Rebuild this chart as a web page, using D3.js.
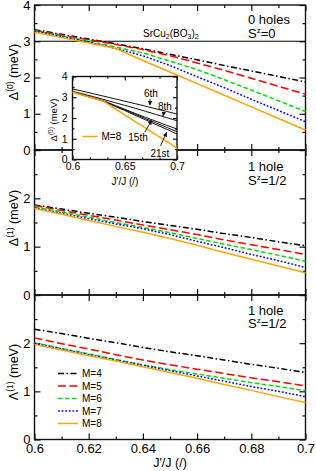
<!DOCTYPE html>
<html>
<head>
<meta charset="utf-8">
<script src="https://cdn.jsdelivr.net/npm/d3@7"></script>
<style>
  body { margin: 0; background: #fff; }
  svg { display: block; font-family: "Liberation Sans", Arial, sans-serif; }
</style>
</head>
<body>
<div id="chart"></div>
<script>
// J'/J sampling
const jRatio = [0.60, 0.61, 0.62, 0.63, 0.64, 0.65, 0.66, 0.67, 0.68, 0.69, 0.70];

const mLabels = ["M=4", "M=5", "M=6", "M=7", "M=8"];

// 0 holes, S^z=0 : Delta^(0)
const gap0M4 = [3.32, 3.19, 3.06, 2.93, 2.79, 2.64, 2.49, 2.33, 2.18, 2.03, 1.88];
const gap0M5 = [3.30, 3.17, 3.04, 2.91, 2.77, 2.60, 2.40, 2.20, 1.98, 1.76, 1.54];
const gap0M6 = [3.29, 3.15, 3.00, 2.84, 2.68, 2.45, 2.22, 1.94, 1.65, 1.36, 1.06];
const gap0M7 = [3.28, 3.13, 2.98, 2.80, 2.60, 2.33, 2.02, 1.72, 1.40, 1.09, 0.78];
const gap0M8 = [3.25, 3.10, 2.95, 2.80, 2.47, 2.15, 1.83, 1.51, 1.19, 0.87, 0.55];

// 1 hole, S^z=1/2 : Delta^(1)
const gap1M4 = [1.86, 1.78, 1.69, 1.61, 1.52, 1.44, 1.36, 1.27, 1.19, 1.10, 1.02];
const gap1M5 = [1.85, 1.75, 1.65, 1.55, 1.45, 1.35, 1.25, 1.14, 1.04, 0.94, 0.84];
const gap1M6 = [1.82, 1.72, 1.61, 1.50, 1.40, 1.29, 1.17, 1.05, 0.94, 0.82, 0.70];
const gap1M7 = [1.80, 1.69, 1.58, 1.47, 1.37, 1.25, 1.11, 0.98, 0.84, 0.71, 0.57];
const gap1M8 = [1.79, 1.67, 1.54, 1.42, 1.30, 1.17, 1.03, 0.88, 0.74, 0.60, 0.46];

// 1 hole, S^z=1/2 : Lambda^(1)
const lam1M4 = [2.29, 2.20, 2.10, 2.01, 1.91, 1.82, 1.74, 1.65, 1.56, 1.48, 1.39];
const lam1M5 = [2.11, 1.99, 1.88, 1.76, 1.65, 1.55, 1.46, 1.37, 1.28, 1.20, 1.11];
const lam1M6 = [2.01, 1.89, 1.78, 1.66, 1.55, 1.45, 1.36, 1.27, 1.18, 1.10, 1.01];
const lam1M7 = [1.99, 1.88, 1.76, 1.65, 1.54, 1.43, 1.32, 1.21, 1.10, 1.00, 0.89];
const lam1M8 = [1.97, 1.86, 1.74, 1.63, 1.51, 1.39, 1.27, 1.14, 1.02, 0.89, 0.77];

// inset: excited levels (M=8)
const level6th  = [3.40, 3.29, 3.17, 3.05, 2.93, 2.81, 2.69, 2.57, 2.44, 2.32, 2.19];
const level8th  = [3.29, 3.16, 3.03, 2.89, 2.75, 2.61, 2.47, 2.32, 2.17, 2.02, 1.87];
const level15th = [3.26, 3.12, 2.97, 2.82, 2.62, 2.42, 2.22, 2.03, 1.84, 1.65, 1.47];
const levelMid  = [3.25, 3.11, 2.96, 2.81, 2.60, 2.39, 2.18, 1.97, 1.76, 1.55, 1.34];
const level21st = [3.25, 3.10, 2.95, 2.80, 2.58, 2.36, 2.13, 1.91, 1.68, 1.46, 1.23];

const expGap = 3.0; // SrCu2(BO3)2

const xMajor = [0.60, 0.62, 0.64, 0.66, 0.68, 0.70];
const xMinor = [0.61, 0.63, 0.65, 0.67, 0.69];
const xTickLabels = ["0.6", "0.62", "0.64", "0.66", "0.68", "0.7"];
const insetXMajor = [0.60, 0.65, 0.70];
const insetXLabels = ["0.6", "0.65", "0.7"];

// annotations in data coords: [label x, label y, tail x, tail y, tip x, tip y]
const insetNotes = [
  ["6th", 0.6750, 3.01, 0.6742, 2.92, 0.6742, 2.62],
  ["8th", 0.6885, 2.39, 0.6876, 2.29, 0.6866, 2.10],
  ["15th", 0.6627, 0.89, 0.6694, 1.33, 0.6756, 1.88],
  ["21st", 0.6837, 0.12, 0.6842, 0.65, 0.6900, 1.30]
];

// styles
const mColors = ["#000000", "#ff0000", "#00dd00", "#0000ff", "#ffa500"];
const mDashes = ["6,2.5,1.5,2.5", "8,3.5", "4.5,2.5", "1.8,1.8", null];

const W = 316, H = 471;
const svg = d3.select("#chart").append("svg")
  .attr("width", W).attr("height", H);

const x = d3.scaleLinear().domain([0.6, 0.7]).range([34.5, 305.5]);

const panels = [
  { y: d3.scaleLinear().domain([0, 4]).range([150, 5]),
    series: [gap0M4, gap0M5, gap0M6, gap0M7, gap0M8],
    yLabels: [0, 1, 2, 3, 4], title: ["\u0394", "(0)"], titleY: 72,
    note: ["0 holes", "=0"], noteY: [24, 38] },
  { y: d3.scaleLinear().domain([0, 3]).range([295, 150]),
    series: [gap1M4, gap1M5, gap1M6, gap1M7, gap1M8],
    yLabels: [0, 1, 2], title: ["\u0394", "(1)"], titleY: 218,
    note: ["1 hole", "=1/2"], noteY: [170.5, 185] },
  { y: d3.scaleLinear().domain([0, 3]).range([439.5, 295]),
    series: [lam1M4, lam1M5, lam1M6, lam1M7, lam1M8],
    yLabels: [0, 1, 2], title: ["\u039b", "(1)"], titleY: 372,
    note: ["1 hole", "=1/2"], noteY: [315, 328] }
];

function halfSteps(domain) {
  return d3.range(domain[0] + 0.5, domain[1], 1);
}

function addTicks(g, axis, values, size, tx, ty) {
  g.append("g")
    .attr("transform", `translate(${tx},${ty})`)
    .call(axis.tickValues(values).tickSize(size).tickFormat(""))
    .call(s => s.select(".domain").remove());
}

function drawFrame(g, xs, ys, xMaj, xMin, major, minor) {
  const [x0, x1] = xs.range();
  const [yb, yt] = ys.range();
  const yMaj = d3.range(ys.domain()[0], ys.domain()[1] + 0.01, 1);
  const yMin = halfSteps(ys.domain());
  const t = g.append("g").attr("color", "#111").attr("stroke-width", 1.2);
  addTicks(t, d3.axisBottom(xs), xMaj, -major, 0, yb);
  addTicks(t, d3.axisBottom(xs), xMin, -minor, 0, yb);
  addTicks(t, d3.axisTop(xs), xMaj, -major, 0, yt);
  addTicks(t, d3.axisTop(xs), xMin, -minor, 0, yt);
  addTicks(t, d3.axisLeft(ys), yMaj, -major, x0, 0);
  addTicks(t, d3.axisLeft(ys), yMin, -minor, x0, 0);
  addTicks(t, d3.axisRight(ys), yMaj, -major, x1, 0);
  addTicks(t, d3.axisRight(ys), yMin, -minor, x1, 0);
  g.append("rect")
    .attr("x", x0).attr("y", yt)
    .attr("width", x1 - x0).attr("height", yb - yt)
    .attr("fill", "none").attr("stroke", "#111").attr("stroke-width", 1.4);
}

function supText(g, tx, ty, base, sup, rest, size, anchor) {
  const t = g.append("text")
    .attr("x", tx).attr("y", ty)
    .attr("font-size", size)
    .attr("text-anchor", anchor || "start");
  t.append("tspan").text(base);
  t.append("tspan").attr("dy", -0.38 * size).attr("font-size", size * 0.62).text(sup);
  t.append("tspan").attr("dy", 0.38 * size).text(rest);
  return t;
}

panels.forEach((p, pi) => {
  const g = svg.append("g");
  drawFrame(g, x, p.y, xMajor, xMinor, 6, 3);

  // y tick labels
  g.append("g")
    .attr("transform", `translate(${x.range()[0]},0)`)
    .call(d3.axisLeft(p.y).tickValues(p.yLabels).tickSize(0).tickPadding(4).tickFormat(d3.format("d")))
    .call(s => s.select(".domain").remove())
    .attr("font-size", 13).attr("font-family", null)
    .selectAll("text").attr("fill", "#000");

  // reference line for SrCu2(BO3)2
  if (pi === 0) {
    g.append("line")
      .attr("x1", x.range()[0]).attr("x2", x.range()[1])
      .attr("y1", p.y(expGap)).attr("y2", p.y(expGap))
      .attr("stroke", "#000").attr("stroke-width", 1);
    const t = g.append("text").attr("x", 143).attr("y", p.y(expGap) - 4.5).attr("font-size", 10);
    t.append("tspan").text("SrCu");
    t.append("tspan").attr("dy", 2.5).attr("font-size", 7).text("2");
    t.append("tspan").attr("dy", -2.5).text("(BO");
    t.append("tspan").attr("dy", 2.5).attr("font-size", 7).text("3");
    t.append("tspan").attr("dy", -2.5).text(")");
    t.append("tspan").attr("dy", 2.5).attr("font-size", 7).text("2");
  }

  const line = d3.line()
    .x((d, i) => x(jRatio[i]))
    .y(d => p.y(d));

  g.selectAll("path.series")
    .data(p.series)
    .join("path")
    .attr("class", "series")
    .attr("d", line)
    .attr("fill", "none")
    .attr("stroke", (d, i) => mColors[i])
    .attr("stroke-width", 1.5)
    .attr("stroke-dasharray", (d, i) => mDashes[i]);

  // y title
  const tt = g.append("text")
    .attr("transform", `translate(18,${p.titleY}) rotate(-90)`)
    .attr("text-anchor", "middle")
    .attr("font-size", 12.5);
  tt.append("tspan").text(p.title[0]);
  tt.append("tspan").attr("dy", -5.5).attr("font-size", 8.5).text(p.title[1]);
  tt.append("tspan").attr("dy", 5.5).text(" (meV)");

  // panel notes
  g.append("text").attr("x", 248).attr("y", p.noteY[0]).attr("font-size", 13).text(p.note[0]);
  supText(g, 248, p.noteY[1], "S", "z", p.note[1], 13);
});

// bottom x tick labels
svg.append("g")
  .attr("transform", `translate(0,${panels[2].y.range()[0]})`)
  .call(d3.axisBottom(x).tickValues(xMajor).tickSize(0).tickPadding(4)
    .tickFormat((d, i) => xTickLabels[i]))
  .call(s => s.select(".domain").remove())
  .attr("font-size", 13).attr("font-family", null)
  .selectAll("text").attr("fill", "#000");

svg.append("text")
  .attr("x", 170).attr("y", 467)
  .attr("text-anchor", "middle")
  .attr("font-size", 12.5)
  .text("J'/J (/)");

// legend
const lg = svg.append("g");
mLabels.forEach((lab, i) => {
  const yy = 373.5 + i * 12.5;
  lg.append("line")
    .attr("x1", 58).attr("x2", 78).attr("y1", yy).attr("y2", yy)
    .attr("stroke", mColors[i]).attr("stroke-width", 1.5)
    .attr("stroke-dasharray", mDashes[i]);
  lg.append("text").attr("x", 82).attr("y", yy + 3.5)
    .attr("font-size", 10).text(lab);
});

// ---- inset ----
const xi = d3.scaleLinear().domain([0.6, 0.7]).range([72.5, 177]);
const yi = d3.scaleLinear().domain([0, 4]).range([159.5, 76.5]);
const ig = svg.append("g");
ig.append("rect")
  .attr("x", xi.range()[0]).attr("y", yi.range()[1])
  .attr("width", xi.range()[1] - xi.range()[0])
  .attr("height", yi.range()[0] - yi.range()[1])
  .attr("fill", "#fff");

const insetMinor = d3.range(1, 6).filter(k => k !== 3).map(k => 0.6 + k * 0.05 / 3);
drawFrame(ig, xi, yi, insetXMajor, insetMinor, 4, 2);

ig.append("g")
  .attr("transform", `translate(${xi.range()[0]},0)`)
  .call(d3.axisLeft(yi).tickValues([0, 1, 2, 3, 4]).tickSize(0).tickPadding(5).tickFormat(d3.format("d")))
  .call(s => s.select(".domain").remove())
  .attr("font-size", 10.5).attr("font-family", null)
  .selectAll("text").attr("fill", "#000");

ig.append("g")
  .attr("transform", `translate(0,${yi.range()[0]})`)
  .call(d3.axisBottom(xi).tickValues(insetXMajor).tickSize(0).tickPadding(3)
    .tickFormat((d, i) => insetXLabels[i]))
  .call(s => s.select(".domain").remove())
  .attr("font-size", 10.5).attr("font-family", null)
  .selectAll("text").attr("fill", "#000");

ig.append("text")
  .attr("x", 125).attr("y", 184.5)
  .attr("text-anchor", "middle").attr("font-size", 10)
  .text("J'/J (/)");

const it = ig.append("text")
  .attr("transform", "translate(57,120) rotate(-90)")
  .attr("text-anchor", "middle").attr("font-size", 9.5);
it.append("tspan").text("\u0394");
it.append("tspan").attr("dy", -4).attr("font-size", 6.5).text("(0)");
it.append("tspan").attr("dy", 4).text(" (meV)");

const iline = d3.line()
  .x((d, i) => xi(jRatio[i]))
  .y(d => yi(d));

ig.selectAll("path.level")
  .data([level6th, level8th, level15th, levelMid, level21st])
  .join("path")
  .attr("class", "level")
  .attr("d", iline)
  .attr("fill", "none")
  .attr("stroke", "#111")
  .attr("stroke-width", 1);

ig.append("path")
  .attr("d", iline(gap0M8))
  .attr("fill", "none")
  .attr("stroke", mColors[4])
  .attr("stroke-width", 1.5);

ig.append("line")
  .attr("x1", 82.5).attr("x2", 97.5).attr("y1", 136.5).attr("y2", 136.5)
  .attr("stroke", mColors[4]).attr("stroke-width", 1.5);
ig.append("text").attr("x", 101.5).attr("y", 140).attr("font-size", 10).text(mLabels[4]);

svg.append("defs").append("marker")
  .attr("id", "arrow")
  .attr("viewBox", "0 0 10 10")
  .attr("refX", 9).attr("refY", 5)
  .attr("markerWidth", 5).attr("markerHeight", 5)
  .attr("orient", "auto")
  .append("path").attr("d", "M0,0 L10,5 L0,10 z").attr("fill", "#111");

insetNotes.forEach(n => {
  ig.append("text")
    .attr("x", xi(n[1])).attr("y", yi(n[2]))
    .attr("text-anchor", "middle").attr("font-size", 10)
    .text(n[0]);
  ig.append("line")
    .attr("x1", xi(n[3])).attr("y1", yi(n[4]))
    .attr("x2", xi(n[5])).attr("y2", yi(n[6]))
    .attr("stroke", "#111").attr("stroke-width", 0.9)
    .attr("marker-end", "url(#arrow)");
});
</script>
</body>
</html>
